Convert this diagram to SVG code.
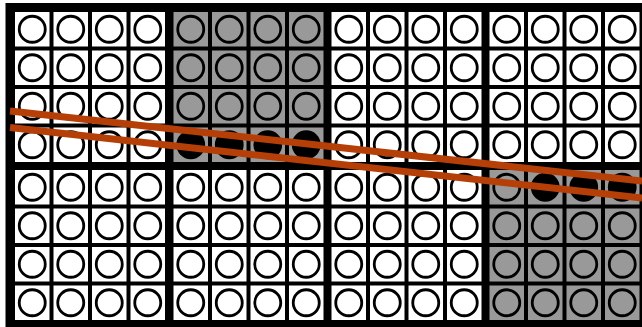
<svg xmlns="http://www.w3.org/2000/svg" xmlns:xlink="http://www.w3.org/1999/xlink" width="642" height="327" viewBox="0 0 642 327">
<style>
.cw{fill:#ffffff}
.cg{fill:#999999}
.ring{stroke:#000;stroke-width:2.8}
.rw{fill:#ffffff}
.rg{fill:#999999}
.rb{fill:#000000}
.beam{stroke:#b53f06;stroke-width:7;fill:none;stroke-linecap:butt}
</style>
<defs>
<g id="tW"><rect class="cw" width="34.5" height="34.5"/><circle class="ring rw" cx="17.25" cy="17.25" r="13"/></g>
<g id="tG"><rect class="cg" width="34.5" height="34.5"/><circle class="ring rg" cx="17.25" cy="17.25" r="13"/></g>
<g id="tB"><rect class="cg" width="34.5" height="34.5"/><circle class="ring rb" cx="17.25" cy="17.25" r="13"/></g>
</defs>
<rect x="0" y="0" width="642" height="327" fill="#ffffff"/>
<rect x="5.5" y="3" width="637" height="324" fill="#000000"/>
<g id="cells">
<g id="cell-0-0" transform="translate(15,12)"><use href="#tW"/></g>
<g id="cell-0-1" transform="translate(53.5,12)"><use href="#tW"/></g>
<g id="cell-0-2" transform="translate(92,12)"><use href="#tW"/></g>
<g id="cell-0-3" transform="translate(130.5,12)"><use href="#tW"/></g>
<g id="cell-0-4" transform="translate(173.5,12)"><use href="#tG"/></g>
<g id="cell-0-5" transform="translate(212,12)"><use href="#tG"/></g>
<g id="cell-0-6" transform="translate(250.5,12)"><use href="#tG"/></g>
<g id="cell-0-7" transform="translate(289,12)"><use href="#tG"/></g>
<g id="cell-0-8" transform="translate(331.5,12)"><use href="#tW"/></g>
<g id="cell-0-9" transform="translate(370,12)"><use href="#tW"/></g>
<g id="cell-0-10" transform="translate(408.5,12)"><use href="#tW"/></g>
<g id="cell-0-11" transform="translate(447,12)"><use href="#tW"/></g>
<g id="cell-0-12" transform="translate(489.5,12)"><use href="#tW"/></g>
<g id="cell-0-13" transform="translate(528,12)"><use href="#tW"/></g>
<g id="cell-0-14" transform="translate(566.5,12)"><use href="#tW"/></g>
<g id="cell-0-15" transform="translate(605,12)"><use href="#tW"/></g>

<g id="cell-1-0" transform="translate(15,50.5)"><use href="#tW"/></g>
<g id="cell-1-1" transform="translate(53.5,50.5)"><use href="#tW"/></g>
<g id="cell-1-2" transform="translate(92,50.5)"><use href="#tW"/></g>
<g id="cell-1-3" transform="translate(130.5,50.5)"><use href="#tW"/></g>
<g id="cell-1-4" transform="translate(173.5,50.5)"><use href="#tG"/></g>
<g id="cell-1-5" transform="translate(212,50.5)"><use href="#tG"/></g>
<g id="cell-1-6" transform="translate(250.5,50.5)"><use href="#tG"/></g>
<g id="cell-1-7" transform="translate(289,50.5)"><use href="#tG"/></g>
<g id="cell-1-8" transform="translate(331.5,50.5)"><use href="#tW"/></g>
<g id="cell-1-9" transform="translate(370,50.5)"><use href="#tW"/></g>
<g id="cell-1-10" transform="translate(408.5,50.5)"><use href="#tW"/></g>
<g id="cell-1-11" transform="translate(447,50.5)"><use href="#tW"/></g>
<g id="cell-1-12" transform="translate(489.5,50.5)"><use href="#tW"/></g>
<g id="cell-1-13" transform="translate(528,50.5)"><use href="#tW"/></g>
<g id="cell-1-14" transform="translate(566.5,50.5)"><use href="#tW"/></g>
<g id="cell-1-15" transform="translate(605,50.5)"><use href="#tW"/></g>

<g id="cell-2-0" transform="translate(15,89)"><use href="#tW"/></g>
<g id="cell-2-1" transform="translate(53.5,89)"><use href="#tW"/></g>
<g id="cell-2-2" transform="translate(92,89)"><use href="#tW"/></g>
<g id="cell-2-3" transform="translate(130.5,89)"><use href="#tW"/></g>
<g id="cell-2-4" transform="translate(173.5,89)"><use href="#tG"/></g>
<g id="cell-2-5" transform="translate(212,89)"><use href="#tG"/></g>
<g id="cell-2-6" transform="translate(250.5,89)"><use href="#tG"/></g>
<g id="cell-2-7" transform="translate(289,89)"><use href="#tG"/></g>
<g id="cell-2-8" transform="translate(331.5,89)"><use href="#tW"/></g>
<g id="cell-2-9" transform="translate(370,89)"><use href="#tW"/></g>
<g id="cell-2-10" transform="translate(408.5,89)"><use href="#tW"/></g>
<g id="cell-2-11" transform="translate(447,89)"><use href="#tW"/></g>
<g id="cell-2-12" transform="translate(489.5,89)"><use href="#tW"/></g>
<g id="cell-2-13" transform="translate(528,89)"><use href="#tW"/></g>
<g id="cell-2-14" transform="translate(566.5,89)"><use href="#tW"/></g>
<g id="cell-2-15" transform="translate(605,89)"><use href="#tW"/></g>

<g id="cell-3-0" transform="translate(15,127.5)"><use href="#tW"/></g>
<g id="cell-3-1" transform="translate(53.5,127.5)"><use href="#tW"/></g>
<g id="cell-3-2" transform="translate(92,127.5)"><use href="#tW"/></g>
<g id="cell-3-3" transform="translate(130.5,127.5)"><use href="#tW"/></g>
<g id="cell-3-4" transform="translate(173.5,127.5)"><use href="#tB"/></g>
<g id="cell-3-5" transform="translate(212,127.5)"><use href="#tB"/></g>
<g id="cell-3-6" transform="translate(250.5,127.5)"><use href="#tB"/></g>
<g id="cell-3-7" transform="translate(289,127.5)"><use href="#tB"/></g>
<g id="cell-3-8" transform="translate(331.5,127.5)"><use href="#tW"/></g>
<g id="cell-3-9" transform="translate(370,127.5)"><use href="#tW"/></g>
<g id="cell-3-10" transform="translate(408.5,127.5)"><use href="#tW"/></g>
<g id="cell-3-11" transform="translate(447,127.5)"><use href="#tW"/></g>
<g id="cell-3-12" transform="translate(489.5,127.5)"><use href="#tW"/></g>
<g id="cell-3-13" transform="translate(528,127.5)"><use href="#tW"/></g>
<g id="cell-3-14" transform="translate(566.5,127.5)"><use href="#tW"/></g>
<g id="cell-3-15" transform="translate(605,127.5)"><use href="#tW"/></g>

<g id="cell-4-0" transform="translate(15,170)"><use href="#tW"/></g>
<g id="cell-4-1" transform="translate(53.5,170)"><use href="#tW"/></g>
<g id="cell-4-2" transform="translate(92,170)"><use href="#tW"/></g>
<g id="cell-4-3" transform="translate(130.5,170)"><use href="#tW"/></g>
<g id="cell-4-4" transform="translate(173.5,170)"><use href="#tW"/></g>
<g id="cell-4-5" transform="translate(212,170)"><use href="#tW"/></g>
<g id="cell-4-6" transform="translate(250.5,170)"><use href="#tW"/></g>
<g id="cell-4-7" transform="translate(289,170)"><use href="#tW"/></g>
<g id="cell-4-8" transform="translate(331.5,170)"><use href="#tW"/></g>
<g id="cell-4-9" transform="translate(370,170)"><use href="#tW"/></g>
<g id="cell-4-10" transform="translate(408.5,170)"><use href="#tW"/></g>
<g id="cell-4-11" transform="translate(447,170)"><use href="#tW"/></g>
<g id="cell-4-12" transform="translate(489.5,170)"><use href="#tG"/></g>
<g id="cell-4-13" transform="translate(528,170)"><use href="#tB"/></g>
<g id="cell-4-14" transform="translate(566.5,170)"><use href="#tB"/></g>
<g id="cell-4-15" transform="translate(605,170)"><use href="#tB"/></g>

<g id="cell-5-0" transform="translate(15,208.5)"><use href="#tW"/></g>
<g id="cell-5-1" transform="translate(53.5,208.5)"><use href="#tW"/></g>
<g id="cell-5-2" transform="translate(92,208.5)"><use href="#tW"/></g>
<g id="cell-5-3" transform="translate(130.5,208.5)"><use href="#tW"/></g>
<g id="cell-5-4" transform="translate(173.5,208.5)"><use href="#tW"/></g>
<g id="cell-5-5" transform="translate(212,208.5)"><use href="#tW"/></g>
<g id="cell-5-6" transform="translate(250.5,208.5)"><use href="#tW"/></g>
<g id="cell-5-7" transform="translate(289,208.5)"><use href="#tW"/></g>
<g id="cell-5-8" transform="translate(331.5,208.5)"><use href="#tW"/></g>
<g id="cell-5-9" transform="translate(370,208.5)"><use href="#tW"/></g>
<g id="cell-5-10" transform="translate(408.5,208.5)"><use href="#tW"/></g>
<g id="cell-5-11" transform="translate(447,208.5)"><use href="#tW"/></g>
<g id="cell-5-12" transform="translate(489.5,208.5)"><use href="#tG"/></g>
<g id="cell-5-13" transform="translate(528,208.5)"><use href="#tG"/></g>
<g id="cell-5-14" transform="translate(566.5,208.5)"><use href="#tG"/></g>
<g id="cell-5-15" transform="translate(605,208.5)"><use href="#tG"/></g>

<g id="cell-6-0" transform="translate(15,247)"><use href="#tW"/></g>
<g id="cell-6-1" transform="translate(53.5,247)"><use href="#tW"/></g>
<g id="cell-6-2" transform="translate(92,247)"><use href="#tW"/></g>
<g id="cell-6-3" transform="translate(130.5,247)"><use href="#tW"/></g>
<g id="cell-6-4" transform="translate(173.5,247)"><use href="#tW"/></g>
<g id="cell-6-5" transform="translate(212,247)"><use href="#tW"/></g>
<g id="cell-6-6" transform="translate(250.5,247)"><use href="#tW"/></g>
<g id="cell-6-7" transform="translate(289,247)"><use href="#tW"/></g>
<g id="cell-6-8" transform="translate(331.5,247)"><use href="#tW"/></g>
<g id="cell-6-9" transform="translate(370,247)"><use href="#tW"/></g>
<g id="cell-6-10" transform="translate(408.5,247)"><use href="#tW"/></g>
<g id="cell-6-11" transform="translate(447,247)"><use href="#tW"/></g>
<g id="cell-6-12" transform="translate(489.5,247)"><use href="#tG"/></g>
<g id="cell-6-13" transform="translate(528,247)"><use href="#tG"/></g>
<g id="cell-6-14" transform="translate(566.5,247)"><use href="#tG"/></g>
<g id="cell-6-15" transform="translate(605,247)"><use href="#tG"/></g>

<g id="cell-7-0" transform="translate(15,285.5)"><use href="#tW"/></g>
<g id="cell-7-1" transform="translate(53.5,285.5)"><use href="#tW"/></g>
<g id="cell-7-2" transform="translate(92,285.5)"><use href="#tW"/></g>
<g id="cell-7-3" transform="translate(130.5,285.5)"><use href="#tW"/></g>
<g id="cell-7-4" transform="translate(173.5,285.5)"><use href="#tW"/></g>
<g id="cell-7-5" transform="translate(212,285.5)"><use href="#tW"/></g>
<g id="cell-7-6" transform="translate(250.5,285.5)"><use href="#tW"/></g>
<g id="cell-7-7" transform="translate(289,285.5)"><use href="#tW"/></g>
<g id="cell-7-8" transform="translate(331.5,285.5)"><use href="#tW"/></g>
<g id="cell-7-9" transform="translate(370,285.5)"><use href="#tW"/></g>
<g id="cell-7-10" transform="translate(408.5,285.5)"><use href="#tW"/></g>
<g id="cell-7-11" transform="translate(447,285.5)"><use href="#tW"/></g>
<g id="cell-7-12" transform="translate(489.5,285.5)"><use href="#tG"/></g>
<g id="cell-7-13" transform="translate(528,285.5)"><use href="#tG"/></g>
<g id="cell-7-14" transform="translate(566.5,285.5)"><use href="#tG"/></g>
<g id="cell-7-15" transform="translate(605,285.5)"><use href="#tG"/></g>
</g>
<g id="connectors">
<line class="beam" x1="10" y1="111" x2="642" y2="181"/>
<line class="beam" x1="10" y1="127.5" x2="642" y2="198"/>
</g>
</svg>
